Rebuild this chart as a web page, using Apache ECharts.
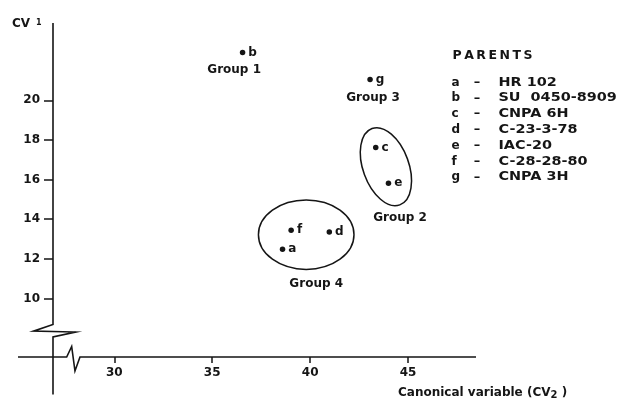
<!DOCTYPE html>
<html>
<head>
<meta charset="utf-8">
<script src="https://cdn.jsdelivr.net/npm/echarts@6/dist/echarts.min.js"></script>
<style>
html, body { margin: 0; padding: 0; background: #fff; }
#chart { width: 621px; height: 404px; }
</style>
</head>
<body>
<div id="chart"></div>
<script>
// parents on the first two canonical variables
const parentCodes = ['a', 'b', 'c', 'd', 'e', 'f', 'g'];
const parentNames = ['HR 102', 'SU  0450-8909', 'CNPA 6H', 'C-23-3-78', 'IAC-20', 'C-28-28-80', 'CNPA 3H'];
const cv2Values = [38.59, 36.55, 43.35, 40.98, 44.0, 39.03, 43.06];
const cv1Values = [12.48, 22.41, 17.62, 13.36, 15.82, 13.44, 21.05];

// group captions
const groupNames = ['Group 1', 'Group 2', 'Group 3', 'Group 4'];
const groupCv2 = [36.12, 44.59, 43.21, 40.31];
const groupCv1 = [21.52, 14.08, 20.1, 10.74];

// ellipses round group 2 and group 4 (centre, half spans in axis units, tilt in degrees)
const ellipseCv2 = [43.87, 39.8];
const ellipseCv1 = [16.65, 13.22];
const ellipseHalfCv2 = [1.17, 2.44];
const ellipseHalfCv1 = [2.05, 1.75];
const ellipseTilt = [20, 0];

const xTicks = [30, 35, 40, 45];
const yTicks = [10, 12, 14, 16, 18, 20];

const ink = '#151515';
const font = 'DejaVu Sans';
const xMin = 26.87, xMax = 48.47, yMin = 7.05, yMax = 23.9;
const xBreakAt = 27.9, yBreakAt = 8.38;

const chart = echarts.init(document.getElementById('chart'));

const labelFont = { color: ink, fontFamily: font, fontSize: 12, fontWeight: 'bold' };

chart.setOption({
    animation: false,
    backgroundColor: '#fff',
    grid: { left: 53, right: 145, top: 23, bottom: 47 },
    xAxis: {
        type: 'value', min: xMin, max: xMax,
        axisLine: { show: false },
        splitLine: { show: false },
        axisTick: { show: true, length: 6, customValues: xTicks, lineStyle: { color: ink, width: 1.5 } },
        axisLabel: Object.assign({ customValues: xTicks, margin: 10 }, labelFont)
    },
    yAxis: {
        type: 'value', min: yMin, max: yMax,
        axisLine: { show: false },
        splitLine: { show: false },
        axisTick: { show: true, length: 9, customValues: yTicks, lineStyle: { color: ink, width: 1.5 } },
        axisLabel: Object.assign({ customValues: yTicks, margin: 13 }, labelFont)
    },
    series: [
        {
            type: 'scatter',
            symbolSize: 5.5,
            itemStyle: { color: ink, opacity: 1 },
            label: Object.assign({ show: true, position: 'right', distance: 3, formatter: '{b}' }, labelFont),
            data: parentCodes.map((c, i) => ({ name: c, value: [cv2Values[i], cv1Values[i]] }))
        },
        {
            type: 'scatter',
            symbolSize: 1,
            itemStyle: { color: 'rgba(0,0,0,0)', opacity: 1 },
            label: Object.assign({ show: true, position: 'inside', formatter: '{b}' }, labelFont),
            data: groupNames.map((g, i) => ({ name: g, value: [groupCv2[i], groupCv1[i]] }))
        },
        {
            type: 'custom',
            clip: false,
            silent: true,
            data: ellipseCv2.map((x, i) => [x, ellipseCv1[i], ellipseHalfCv2[i], ellipseHalfCv1[i], ellipseTilt[i]]),
            renderItem: function (params, api) {
                const c = api.coord([api.value(0), api.value(1)]);
                const s = api.size([api.value(2), api.value(3)]);
                return {
                    type: 'ellipse',
                    x: c[0], y: c[1],
                    rotation: api.value(4) * Math.PI / 180,
                    shape: { cx: 0, cy: 0, rx: s[0], ry: s[1] },
                    style: { fill: 'none', stroke: ink, lineWidth: 1.5 }
                };
            }
        }
    ]
});

// axis lines with their break marks, placed from the axis scales
const px = v => chart.convertToPixel({ gridIndex: 0 }, v);
const origin = px([xMin, yMin]);
const ox = origin[0], oy = origin[1];
const topY = px([xMin, yMax])[1];
const rightX = px([xMax, yMin])[0];
const yb = px([xMin, yBreakAt])[1];
const xb = px([xBreakAt, yMin])[0];

const lineStyle = { stroke: ink, lineWidth: 1.6, fill: 'none', lineJoin: 'miter' };
const graphics = [
    {
        type: 'polyline', silent: true,
        shape: { points: [[ox, topY], [ox, yb - 6.2], [ox - 19.5, yb + 0.5], [ox + 22.5, yb + 1.4], [ox, yb + 6.3], [ox, oy + 37.5]] },
        style: lineStyle
    },
    {
        type: 'polyline', silent: true,
        shape: { points: [[ox - 35, oy], [xb - 6.5, oy], [xb - 1.5, oy - 10.5], [xb + 1.8, oy + 14], [xb + 6.8, oy], [rightX, oy]] },
        style: lineStyle
    },
    {
        type: 'text', x: 12, y: 24,
        style: {
            text: '{m|CV}{s|1}', verticalAlign: 'middle',
            rich: {
                m: { fontFamily: font, fontSize: 12, fontWeight: 'bold', fill: ink },
                s: { fontFamily: font, fontSize: 8, fontWeight: 'bold', fill: ink, padding: [0, 0, 3, 6] }
            }
        }
    },
    {
        type: 'text', x: 398, y: 393,
        style: {
            text: '{m|Canonical variable (CV}{s|2}{m| )}', verticalAlign: 'middle',
            rich: {
                m: { fontFamily: font, fontSize: 12, fontWeight: 'bold', fill: ink },
                s: { fontFamily: font, fontSize: 10, fontWeight: 'bold', fill: ink, padding: [5, 0, 0, 0] }
            }
        }
    },
    {
        type: 'text', x: 452.5, y: 56,
        style: { text: 'P\u2009A\u2009R\u2009E\u2009N\u2009T\u2009S', fontFamily: font, fontSize: 12.5, fontWeight: 'bold', fill: ink, verticalAlign: 'middle' }
    }
];

const rowTop = 82.5, rowStep = 15.8;
parentCodes.forEach((c, i) => {
    const y = rowTop + i * rowStep;
    graphics.push({ type: 'text', x: 451.5, y: y, style: { text: c, fontFamily: font, fontSize: 12, fontWeight: 'bold', fill: ink, verticalAlign: 'middle' } });
    graphics.push({ type: 'text', x: 477, y: y, style: { text: '\u2013', fontFamily: font, fontSize: 13, fontWeight: 'bold', fill: ink, align: 'center', verticalAlign: 'middle' } });
    graphics.push({ type: 'text', x: 498.5, y: y, scaleX: 1.2, style: { text: parentNames[i], fontFamily: font, fontSize: 12, fontWeight: 'bold', fill: ink, verticalAlign: 'middle' } });
});

chart.setOption({ graphic: graphics });
</script>
</body>
</html>
